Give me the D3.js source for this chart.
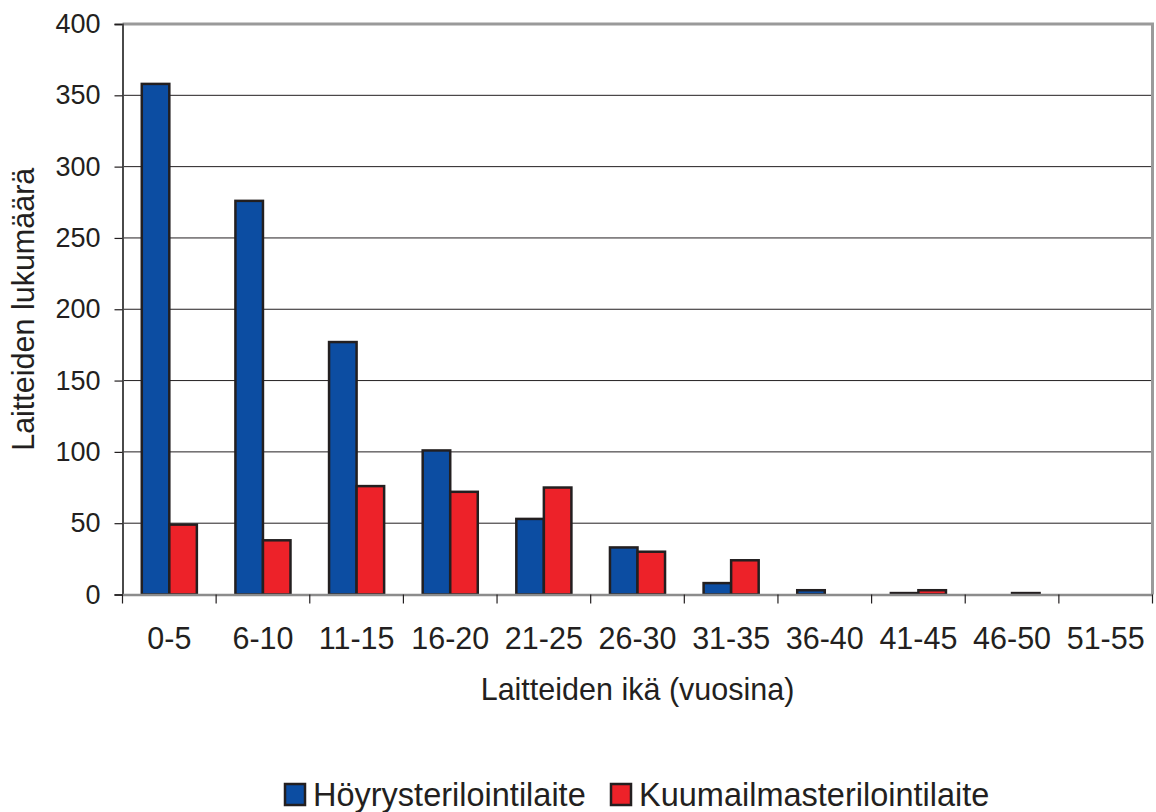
<!doctype html>
<html lang="fi">
<head>
<meta charset="utf-8" />
<style>
  body { margin: 0; background: #fff; }
  svg text { font-family: "Liberation Sans", Arial, Helvetica, sans-serif; fill: #231f20; }
</style>
</head>
<body>
<div id="chart"></div>
<script src="https://cdn.jsdelivr.net/npm/d3@7/dist/d3.min.js"></script>
<script>
// data
var ageGroups = ["0-5", "6-10", "11-15", "16-20", "21-25", "26-30", "31-35", "36-40", "41-45", "46-50", "51-55"];
var seriesNames = ["Höyrysterilointilaite", "Kuumailmasterilointilaite"];
var steamValues = [358, 276, 177, 101, 53, 33, 8, 3, 1, 0, 0];
var hotAirValues = [49, 38, 76, 72, 75, 30, 24, 0, 3, 1, 0];
var yTicks = [0, 50, 100, 150, 200, 250, 300, 350, 400];
var colors = ["#0c4da2", "#ed2229"];

var width = 1156, height = 812;
var plotLeft = 122.5, plotRight = 1152.5, plotTop = 24, plotBottom = 594.5;

var svg = d3.select("#chart").append("svg")
  .attr("width", width)
  .attr("height", height);

var x0 = d3.scaleBand().domain(ageGroups).range([plotLeft, plotRight]).padding(0);
var x1 = d3.scaleBand().domain(seriesNames).range([0, x0.bandwidth()]).paddingInner(0).paddingOuter(0.7);
var y = d3.scaleLinear().domain([0, 400]).range([plotBottom, plotTop]);
var color = d3.scaleOrdinal().domain(seriesNames).range(colors);

// gridlines
svg.append("g")
  .selectAll("line")
  .data(yTicks.filter(function(d) { return d > 0 && d < 400; }))
  .enter().append("line")
  .attr("x1", plotLeft).attr("x2", plotRight)
  .attr("y1", function(d) { return y(d); })
  .attr("y2", function(d) { return y(d); })
  .attr("stroke", "#231f20")
  .attr("stroke-width", 1);

// plot frame top and right (gray)
svg.append("path")
  .attr("d", "M" + plotLeft + "," + plotTop + "H" + plotRight + "V" + plotBottom)
  .attr("fill", "none")
  .attr("stroke", "#9a9a9a")
  .attr("stroke-width", 3);

// bars
var rows = ageGroups.map(function(g, i) {
  return { group: g, values: [
    { key: seriesNames[0], value: steamValues[i] },
    { key: seriesNames[1], value: hotAirValues[i] }
  ] };
});

var groups = svg.append("g").selectAll("g")
  .data(rows)
  .enter().append("g")
  .attr("transform", function(d) { return "translate(" + x0(d.group) + ",0)"; });

groups.selectAll("rect")
  .data(function(d) { return d.values.filter(function(v) { return v.value > 0; }); })
  .enter().append("rect")
  .attr("x", function(d) { return x1(d.key); })
  .attr("width", x1.bandwidth())
  .attr("y", function(d) { return y(d.value); })
  .attr("height", function(d) { return y(0) - y(d.value); })
  .attr("fill", function(d) { return color(d.key); })
  .attr("stroke", "#231f20")
  .attr("stroke-width", 2.5);

// y axis
var yAxis = svg.append("g")
  .attr("transform", "translate(" + plotLeft + ",0)")
  .call(d3.axisLeft(y).tickValues(yTicks).tickSize(8).tickPadding(14));
yAxis.select(".domain").attr("stroke", "#4a4a4a").attr("stroke-width", 2);
yAxis.selectAll(".tick line").attr("stroke", "#231f20").attr("stroke-width", 1.2);
yAxis.selectAll(".tick text").attr("font-size", 27).attr("font-family", null).attr("fill", "#231f20");

// x axis (ticks between categories)
var xAxis = svg.append("g")
  .attr("transform", "translate(0," + plotBottom + ")")
  .call(d3.axisBottom(x0).tickSize(0).tickPadding(33));
xAxis.select(".domain").attr("stroke", "#8c8c8c").attr("stroke-width", 2.5);
xAxis.selectAll(".tick text").attr("font-size", 30.5).attr("font-family", null).attr("fill", "#231f20");

svg.append("g")
  .selectAll("line")
  .data(ageGroups.concat(["end"]))
  .enter().append("line")
  .attr("x1", function(d, i) { return i < ageGroups.length ? x0(d) : plotRight; })
  .attr("x2", function(d, i) { return i < ageGroups.length ? x0(d) : plotRight; })
  .attr("y1", plotBottom).attr("y2", plotBottom + 9)
  .attr("stroke", "#231f20")
  .attr("stroke-width", 1.2);

// axis titles
svg.append("text")
  .attr("x", (plotLeft + plotRight) / 2)
  .attr("y", 700)
  .attr("text-anchor", "middle")
  .attr("font-size", 30.5)
  .text("Laitteiden ikä (vuosina)");

svg.append("text")
  .attr("transform", "translate(34," + ((plotTop + plotBottom) / 2) + ") rotate(-90)")
  .attr("text-anchor", "middle")
  .attr("font-size", 30.5)
  .text("Laitteiden lukumäärä");

// legend
var legendX = [284, 610];
var legend = svg.append("g").selectAll("g")
  .data(seriesNames)
  .enter().append("g")
  .attr("transform", function(d, i) { return "translate(" + legendX[i] + ",783)"; });

legend.append("rect")
  .attr("x", 1).attr("y", 1)
  .attr("width", 20).attr("height", 21)
  .attr("fill", function(d) { return color(d); })
  .attr("stroke", "#231f20")
  .attr("stroke-width", 2.5);

legend.append("text")
  .attr("x", 29)
  .attr("y", 23)
  .attr("font-size", 32.5)
  .text(function(d) { return d; });
</script>
</body>
</html>
